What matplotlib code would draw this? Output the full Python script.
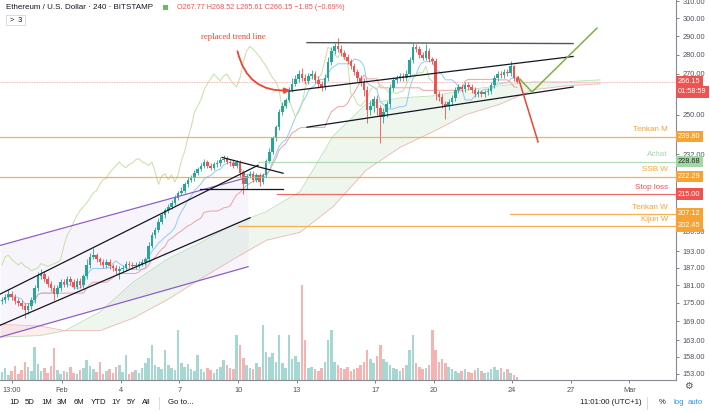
import numpy as np
import pandas as pd
import matplotlib
matplotlib.use("Agg")
from matplotlib import pyplot as plt
from matplotlib.patches import FancyArrowPatch, Rectangle
from matplotlib.transforms import blended_transform_factory

plt.rcParams['font.family'] = ['Liberation Sans', 'DejaVu Sans']

# --- 4h candles, ETH/USD, Jan 29 -> Feb 24 2020 ---
first_open = 175.5
closes = [
    176, 177, 178, 177, 175.5, 175, 174, 172.5, 174, 176,
    180, 184, 185, 183, 181.5, 180, 178, 180, 182, 181.5,
    183, 182, 180.5, 182.5, 181, 184, 188, 191, 191.5, 190,
    189, 188, 189, 187.5, 187, 186, 186.5, 187, 188.5, 188,
    187.5, 188, 188.5, 189, 190, 195, 199, 201, 204, 206.5,
    208.5, 210, 211.5, 213.5, 215.5, 216.5, 219, 221, 221.5, 224,
    225.5, 227, 228.5, 227, 226, 227.5, 228, 229.5, 230, 228.5,
    228, 227, 228.5, 224, 219, 222.5, 223.5, 221, 223, 220,
    223, 229, 233, 239, 244, 251, 254, 257, 262, 265,
    267.5, 270, 268, 266.5, 269, 270, 267, 265, 263.5, 268,
    276, 282, 284.5, 283, 281, 279, 276.5, 274, 271, 268,
    266, 262, 252, 254, 257.5, 253, 249, 251, 255, 263,
    267, 268, 269, 268, 270, 277, 284, 283, 280, 278.5,
    282, 277.5, 276.5, 260, 258.5, 255, 254, 256, 258, 262,
    263.5, 262.5, 264.5, 263.5, 262, 260, 261, 260, 261, 261.5,
    264.5, 268, 270, 269.5, 271, 270.5, 274, 267.77, 266.15,
]
wick_up = [
    1, 1, 1.5, 1, 1, 1, 1, 1, 1, 1,
    1, 1.5, 1.5, 1, 1, 1, 1, 1, 1, 1,
    1, 1, 1, 1, 1, 1, 2, 1.5, 2.5, 1,
    1, 1, 1, 1, 1, 1, 1, 1, 1, 1,
    1, 1, 1, 1, 1, 1.5, 1, 1, 1.5, 1,
    1, 1, 1, 1, 1, 1.5, 1, 1, 1.5, 1,
    1, 1, 1.5, 1, 1, 1, 1.5, 1, 1.5, 1,
    1, 1.5, 1, 1, 1, 1, 1, 1, 1, 1,
    1, 1, 1.5, 1, 1, 1.5, 2, 1, 1.5, 3,
    2, 2, 3, 2, 1.5, 2, 1.5, 2, 1.5, 2,
    3, 2, 2, 4.5, 2, 1.5, 1.5, 1.5, 1.5, 1.5,
    1.5, 2, 2, 3, 1.5, 2, 1.5, 2, 1.5, 2,
    1.5, 1.5, 1.5, 1.5, 2, 2, 2.5, 1.5, 1.5, 1.5,
    4, 1.5, 1.5, 2, 1.5, 1.5, 1.5, 1.5, 1.5, 1.5,
    1.5, 1.5, 1.5, 1.5, 1.5, 1.5, 1.5, 1, 1, 1.5,
    1.5, 1.5, 1.5, 1.5, 1.5, 1.5, 2.5, 0.75, 0.75,
]
wick_dn = [
    1, 1, 1, 1, 1, 1, 1, 2.5, 1, 1,
    1, 1, 1, 1, 1, 1, 2, 1, 1, 1,
    1, 1, 1, 1, 1, 1, 1, 1, 1, 1,
    1, 1, 1, 1, 1, 1, 3, 1, 1, 1,
    1, 1, 1, 1, 1, 1, 1, 1, 1, 1,
    1, 1, 1, 1, 1, 1, 1, 1, 1, 1,
    1, 1, 1, 1, 1, 1, 1, 1, 1, 1,
    1, 1, 1, 2, 4, 2, 1, 1, 1, 1.5,
    1, 1, 1, 1, 1, 1, 1, 1, 1, 1,
    1, 1.5, 1.5, 1.5, 1.5, 1.5, 1.5, 2, 2, 1.5,
    1.5, 1.5, 1.5, 1.5, 1.5, 1.5, 1.5, 1.5, 1.5, 2,
    2, 3, 6, 2, 3, 3, 12, 3, 2, 2,
    1.5, 1.5, 1.5, 1.5, 1.5, 1.5, 1.5, 1.5, 1.5, 1.5,
    1.5, 1.5, 1.5, 3, 2, 2, 6, 2, 1.5, 1.5,
    1.5, 1.5, 1.5, 1.5, 1.5, 1.5, 1.5, 1.5, 1.5, 1.5,
    1.5, 1.5, 1.5, 1.5, 1.5, 1.5, 1.5, 1.5, 0.55,
]
volumes = [
    8, 12, 5, 9, 14, 6, 10, 18, 13, 9,
    33, 16, 9, 12, 7, 14, 32, 10, 6, 9,
    8, 13, 7, 6, 10, 12, 20, 14, 11, 8,
    18, 6, 9, 11, 7, 13, 15, 8, 25, 6,
    8, 10, 7, 12, 17, 22, 35, 15, 13, 11,
    30, 15, 12, 10, 50, 17, 13, 16, 11, 9,
    25, 11, 8, 12, 10, 7, 11, 13, 20, 15,
    12, 11, 45, 35, 22, 15, 12, 11, 17, 13,
    55, 28, 23, 27, 18, 45, 17, 12, 45, 21,
    24, 18, 95, 40, 12, 13, 11, 9, 12, 18,
    40, 50, 18, 15, 12, 11, 13, 9, 11, 12,
    15, 18, 30, 21, 17, 24, 35, 21, 18, 15,
    12, 11, 9, 12, 15, 30, 45, 17, 13, 11,
    12, 15, 50, 30, 18, 21, 17, 13, 11, 9,
    7, 9, 11, 8, 7, 10, 12, 9, 7, 8,
    11, 13, 10, 12, 8, 11, 7, 5, 3,
]

# Ichimoku cloud edges (day of Feb, span A, span B)
cloud_days = [-2.17, -0.12, 1.15, 2.94, 4.63, 6.37, 8.05, 9.74, 11.43, 13.16,
              14.85, 16.54, 18.28, 19.96, 21.65, 23.39, 25.07, 26.76, 28.5]
span_a = [164, 164.5, 166, 172, 182, 190, 196, 203, 208, 216,
          240, 255, 258, 259, 262, 264, 266, 266, 267]
span_b = [168, 167.5, 166, 166, 170, 176, 183, 190, 197, 200,
          210, 225, 235, 242, 250, 255, 262, 264, 265]

# horizontal levels: name, price, colour, first day
level_names = ["Tenkan M", "Achat", "SSB W", "Stop loss", "Tenkan W", "Kijun W"]
level_prices = [239.80, 228.68, 222.29, 215.00, 207.12, 202.45]
level_colors = ['#f7a334', '#a5d6a7', '#f7a334', '#ef5350', '#f7a334', '#f7a334']
level_start = [-2.2, 11.0, -2.2, 11.99, 23.9, 10.0]

price_ticks = [153, 158, 163, 169, 175, 181, 187, 193, 200.5, 232, 250,
               270, 280, 290, 300, 310]
day_ticks = [-1.55, 1, 4, 7, 10, 13, 17, 20, 24, 27, 30]
day_labels = ["13:00", "Feb", "4", "7", "10", "13", "17", "20", "24", "27", "Mar"]

# drawn lines (day, price)
trend_lines = [
    [(-2.17, 167.7), (10.61, 205.6)],
    [(-2.17, 177.9), (11.02, 227.1)],
    [(9.18, 230.5), (12.30, 223.7)],
    [(8.05, 217.1), (12.30, 217.1)],
    [(13.52, 244.1), (27.12, 263.4)],
    [(12.65, 261.4), (27.12, 279.1)],
]
resistance = [(13.52, 286.5), (27.12, 286.0)]
purple_top = [(-2.17, 195.1), (10.51, 222.0)]
purple_bot = [(-2.17, 164.0), (10.51, 187.4)]
red_path = [(24.31, 268.4), (25.33, 237.4)]
green_path = [(24.41, 267.3), (25.02, 260.9), (28.34, 294.5)]
arrow_from = (9.94, 283.3)
arrow_to = (12.81, 261.9)

UP = '#26a69a'
DN = '#ef5350'
W, H = 710, 413

fig = plt.figure(figsize=(W / 100, H / 100), dpi=100)
rect = [0, 33 / H, 676 / W, 380 / H]
axv = fig.add_axes(rect)
ax = fig.add_axes(rect)
ax.set_zorder(2)
ax.patch.set_visible(False)

start_day = -2.07
n = len(closes)
days = start_day + np.arange(n) / 6.0
c = np.array(closes)
o = np.r_[first_open, c[:-1]]
hi = np.maximum(o, c) + np.array(wick_up)
lo = np.minimum(o, c) - np.array(wick_dn)
up = c >= o
col = np.where(up, UP, DN)

# volume behind everything
axv.bar(days, volumes, width=0.13, color=np.where(up, '#a6d8d3', '#f5b3b1'), linewidth=0)
axv.set_ylim(0, max(volumes) * 4.0)
axv.set_xlim(-2.17, 32.38)
axv.axis('off')

ax.set_yscale('log')
ax.set_ylim(151.2, 310.6)
ax.set_xlim(-2.17, 32.38)

# Ichimoku
df = pd.DataFrame({'h': hi, 'l': lo, 'c': c})
tenkan = (df.h.rolling(9, min_periods=1).max() + df.l.rolling(9, min_periods=1).min()) / 2
kijun = (df.h.rolling(26, min_periods=1).max() + df.l.rolling(26, min_periods=1).min()) / 2
ax.plot(days, tenkan, color='#90caf9', lw=0.7, zorder=1)
ax.plot(days[8:], kijun[8:], color='#e8a3a3', lw=0.7, zorder=1)
ax.plot(days[:-26], c[26:], color='#c5e1a5', lw=0.7, zorder=1)
ca, cb = np.array(span_a), np.array(span_b)
ax.fill_between(cloud_days, ca, cb, where=ca >= cb, interpolate=True,
                color='#43a047', alpha=0.09, lw=0, zorder=0.5)
ax.fill_between(cloud_days, ca, cb, where=ca < cb, interpolate=True,
                color='#f44336', alpha=0.09, lw=0, zorder=0.5)
ax.plot(cloud_days, ca, color='#b9dfb9', lw=0.6, zorder=0.6)
ax.plot(cloud_days, cb, color='#f2b8b8', lw=0.6, zorder=0.6)

# purple channel
px = [purple_top[0][0], purple_top[1][0]]
ax.fill_between(px, [purple_bot[0][1], purple_bot[1][1]], [purple_top[0][1], purple_top[1][1]],
                color='#9575cd', alpha=0.07, lw=0, zorder=0.4)
for seg in (purple_top, purple_bot):
    ax.plot(*zip(*seg), color='#8e5fc7', lw=0.9, zorder=3)

# candles
ax.vlines(days, lo, hi, colors=col, lw=0.6, zorder=2)
body_lo = np.minimum(o, c)
body_h = np.maximum(np.abs(c - o), 0.25)
ax.bar(days, body_h, bottom=body_lo, width=0.13, color=col, linewidth=0, zorder=2.1)

# levels
tb = blended_transform_factory(ax.transAxes, ax.transData)
for name, p, cl, d0 in zip(level_names, level_prices, level_colors, level_start):
    ax.plot([d0, 32.4], [p, p], color=cl, lw=0.9, alpha=0.85, zorder=3)
    ax.text(0.988, p * 1.006, name, transform=tb, ha='right', va='bottom',
            fontsize=5.8, color=cl, zorder=4)
    tc = '#1e2a1e' if name == "Achat" else 'white'
    ax.text(1.003, p, f"{p:.2f}", transform=tb, ha='left', va='center', fontsize=5.3,
            color=tc, clip_on=False, zorder=6,
            bbox=dict(boxstyle='square,pad=0.3', fc=cl, ec='none'))

# last price
last = closes[-1]
ax.axhline(last, color='#f19c9b', lw=0.6, ls=(0, (1, 1)), zorder=1)
ax.text(1.003, last, f"{last:.2f}", transform=tb, ha='left', va='center', fontsize=5.3,
        color='white', clip_on=False, zorder=6,
        bbox=dict(boxstyle='square,pad=0.3', fc=DN, ec='none'))
ax.annotate("01:58:59", xy=(1.003, last), xycoords=tb, xytext=(0, -7.5),
            textcoords='offset points', ha='left', va='center', fontsize=5.3,
            color='white', annotation_clip=False, zorder=6,
            bbox=dict(boxstyle='square,pad=0.3', fc=DN, ec='none'))

# trend lines
for seg in trend_lines:
    ax.plot(*zip(*seg), color='#131722', lw=0.9, zorder=3)
ax.plot(*zip(*resistance), color='#555555', lw=1.0, zorder=3)
ax.plot(*zip(*red_path), color='#f0452f', lw=1.1, zorder=3)
ax.plot(*zip(*green_path), color='#7cb342', lw=1.1, zorder=3)

arr = FancyArrowPatch(arrow_from, arrow_to, connectionstyle='arc3,rad=0.45',
                      arrowstyle='-|>', mutation_scale=8, color='#f0452f', lw=1.3, zorder=4)
ax.add_patch(arr)
ax.text(arrow_from[0] - 0.2, 287.5, "replaced trend line", ha='center', va='bottom',
        fontsize=6.2, color='#f0452f', family='Liberation Serif', zorder=4)

# axes styling
ax.set_yticks(price_ticks)
ax.set_yticklabels([f"{t:.2f}" for t in price_ticks])
ax.yaxis.set_minor_locator(matplotlib.ticker.NullLocator())
ax.yaxis.tick_right()
ax.tick_params(axis='y', labelsize=5.3, colors='#50535e', length=2.5, width=0.5, pad=2)
ax.set_xticks(day_ticks)
ax.set_xticklabels(day_labels)
ax.tick_params(axis='x', labelsize=5.3, colors='#50535e', length=2, width=0.5, pad=3)
for s in ('top', 'left'):
    ax.spines[s].set_visible(False)
for s in ('right', 'bottom'):
    ax.spines[s].set_color('#868993')
    ax.spines[s].set_linewidth(0.8)

# header
def ftext(x, y, s, **kw):
    fig.text(x / W, 1 - y / H, s, va='center', **kw)

ftext(6, 7.5, "Ethereum / U.S. Dollar · 240 · BITSTAMP", fontsize=5.8, color='#131722')
fig.patches.append(Rectangle((163 / W, 1 - 10 / H), 5 / W, 5 / H, transform=fig.transFigure,
                             fc='#66bb6a', ec='none'))
ftext(177, 7.5, "O267.77 H268.52 L265.61 C266.15 −1.85 (−0.69%)", fontsize=5.2, color='#ef5350')
fig.patches.append(Rectangle((6 / W, 1 - 25 / H), 19 / W, 10 / H, transform=fig.transFigure,
                             fc='white', ec='#d1d4dc', lw=0.6))
ftext(9.5, 20, ">  3", fontsize=5.2, color='#131722')

# bottom toolbar
for lab, x in [("1D", 9), ("5D", 25), ("1M", 41), ("3M", 57), ("6M", 74), ("YTD", 91),
               ("1Y", 111), ("5Y", 127), ("All", 142), ("Go to...", 168)]:
    ftext(x, 403, lab, fontsize=5.6, color='#131722')
ftext(580, 403, "11:01:00 (UTC+1)", fontsize=5.6, color='#131722')
ftext(659, 403, "%", fontsize=5.6, color='#131722')
ftext(673, 403, "log", fontsize=5.6, color='#2196f3')
ftext(688, 403, "auto", fontsize=5.6, color='#2196f3')
for x in (159, 647):
    fig.add_artist(plt.Line2D([x / W, x / W], [1 - 397 / H, 1 - 409 / H], color='#d1d4dc', lw=0.6))
ftext(684.5, 386, "⚙", fontsize=7, color='#50535e', family='DejaVu Sans')

fig.savefig("out.png", dpi=100)
